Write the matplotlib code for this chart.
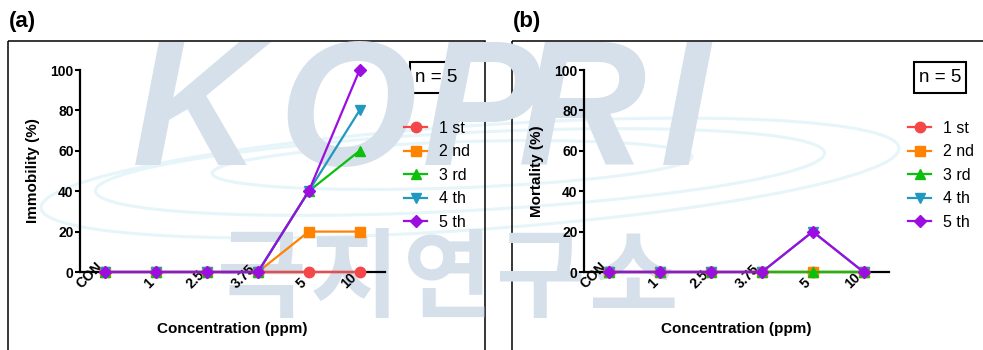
import matplotlib
matplotlib.use("Agg")
import matplotlib.pyplot as plt
from matplotlib.patches import Rectangle, Ellipse
from matplotlib.lines import Line2D

# ---- data ----
concentrations = ["CON", "1", "2.5", "3.75", "5", "10"]
series_names = ["1 st", "2 nd", "3 rd", "4 th", "5 th"]

immobility_1st = [0, 0, 0, 0, 0, 0]
immobility_2nd = [0, 0, 0, 0, 20, 20]
immobility_3rd = [0, 0, 0, 0, 40, 60]
immobility_4th = [0, 0, 0, 0, 40, 80]
immobility_5th = [0, 0, 0, 0, 40, 100]

mortality_1st = [0, 0, 0, 0, 0, 0]
mortality_2nd = [0, 0, 0, 0, 0, 0]
mortality_3rd = [0, 0, 0, 0, 0, 0]
mortality_4th = [0, 0, 0, 0, 20, 0]
mortality_5th = [0, 0, 0, 0, 20, 0]

y_ticks = [0, 20, 40, 60, 80, 100]

# ---- style ----
colors = ["#f44848", "#ff8200", "#0cbf0c", "#2198bf", "#9c0de0"]
markers = ["o", "s", "^", "v", "D"]
msizes = [7.5, 7, 7.5, 7.5, 6.5]

plt.rcParams["font.family"] = ["Liberation Sans", "DejaVu Sans"]

W, H = 983, 350
fig = plt.figure(figsize=(W / 100, H / 100), dpi=100)
fig.patch.set_facecolor("white")

# background layer in pixel coordinates
bg = fig.add_axes([0, 0, 1, 1], zorder=-5)
bg.set_xlim(0, W)
bg.set_ylim(H, 0)
bg.axis("off")

# faint institute watermark
wm = "#d6e0eb"
for ch, lx in zip("KOPRI", [132, 278, 422, 518, 660]):
    bg.text(lx, 165, ch, fontsize=128, fontweight="bold", style="italic",
            color=wm, ha="left", va="baseline")
for ch, cx in zip("극지연구소", [262, 355, 448, 541, 634]):
    bg.text(cx, 281, ch, fontsize=70, fontweight="bold",
            family=["Noto Sans CJK KR"], color=wm, ha="center", va="center")
for (cx, cy, w, h, ang) in [(460, 172, 730, 78, -3), (452, 165, 480, 46, -2),
                            (470, 178, 860, 104, -4)]:
    bg.add_patch(Ellipse((cx, cy), w, h, angle=ang, fill=False,
                         ec="#e6f5fa", lw=2.2))

# panel frames and letters
bg.add_patch(Rectangle((8, 41), 477, 330, fill=False, ec="black", lw=1.1,
                       clip_on=False))
bg.add_patch(Rectangle((512, 41), 500, 330, fill=False, ec="black", lw=1.1,
                       clip_on=False))
bg.text(9, 21, "(a)", fontsize=16, fontweight="bold", ha="left", va="center")
bg.text(513, 21, "(b)", fontsize=16, fontweight="bold", ha="left", va="center")


def add_panel(x0, x1, ylabel, series, leg_x, box_x):
    ax = fig.add_axes([x0 / W, 1 - 272 / H, (x1 - x0) / W, (272 - 70) / H])
    ax.set_facecolor("none")
    xs = list(range(len(concentrations)))
    for i, vals in enumerate(series):
        ax.plot(xs, vals, color=colors[i], marker=markers[i], ms=msizes[i],
                lw=1.6, clip_on=False, zorder=3 + i)
    ax.set_xlim(-0.5, len(concentrations) - 0.5)
    ax.set_ylim(0, 100)
    for s in ("top", "right"):
        ax.spines[s].set_visible(False)
    for s in ("left", "bottom"):
        ax.spines[s].set_linewidth(1.6)
    ax.set_yticks(y_ticks)
    ax.set_yticklabels([str(v) for v in y_ticks], fontsize=10, fontweight="bold")
    ax.tick_params(axis="y", length=3.5, width=1.5, pad=1)
    ax.set_xticks(xs)
    ax.set_xticklabels(concentrations, fontsize=10, fontweight="bold")
    ax.tick_params(axis="x", length=3.5, width=1.5, pad=10.2)
    for lab in ax.get_xticklabels():
        lab.set_rotation(45)
        lab.set_ha("right")
        lab.set_va("bottom")
    ax.text(-0.154, 0.5, ylabel, transform=ax.transAxes, rotation=90,
            fontsize=11, fontweight="bold", ha="center", va="center")
    ax.text(0.5, -0.282, "Concentration (ppm)", transform=ax.transAxes,
            fontsize=11, fontweight="bold", ha="center", va="center")

    handles = [Line2D([], [], color=colors[i], marker=markers[i], ms=msizes[i],
                      lw=1.6) for i in range(len(series_names))]
    ax.legend(handles, series_names, loc="upper left",
              bbox_to_anchor=(leg_x / W, 1 - 121 / H),
              bbox_transform=fig.transFigure, frameon=False, fontsize=11.5,
              handlelength=1.45, handletextpad=0.75, labelspacing=0.53,
              borderpad=0, borderaxespad=0)

    bg.add_patch(Rectangle((box_x, 62), 52, 31, fill=False, ec="black", lw=1.5))
    bg.text(box_x + 26, 78, "n = 5", fontsize=13.5, ha="center", va="center")
    return ax


add_panel(80, 385, "Immobility (%)",
          [immobility_1st, immobility_2nd, immobility_3rd, immobility_4th,
           immobility_5th], 404, 410)
add_panel(584, 889, "Mortality (%)",
          [mortality_1st, mortality_2nd, mortality_3rd, mortality_4th,
           mortality_5th], 908, 914)

fig.savefig("out.png", dpi=100)
